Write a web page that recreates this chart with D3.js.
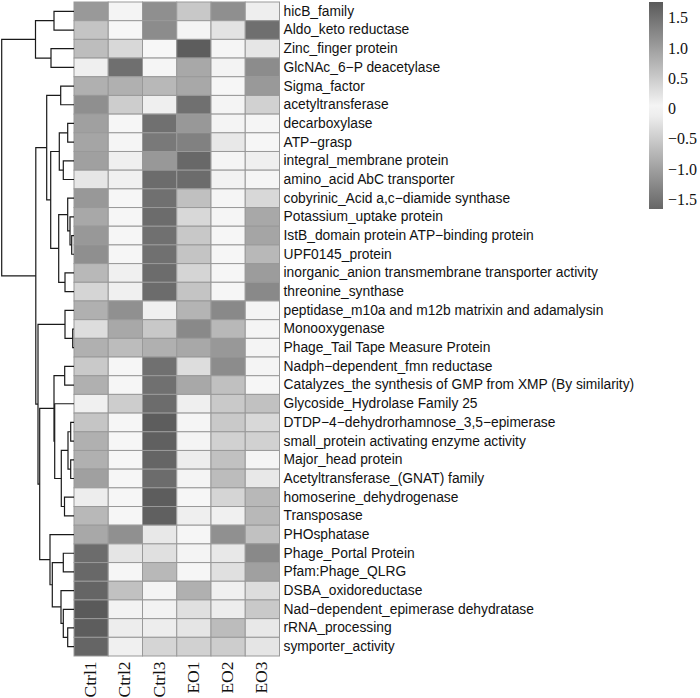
<!DOCTYPE html>
<html lang="en">
<head>
<meta charset="UTF-8"/>
<title>Heatmap with row dendrogram</title>
<script src="https://d3js.org/d3.v7.min.js"></script>
<style>
	body { margin: 0; background: #fff; }
	.cell { stroke: #999; stroke-width: 1; }
	.link { fill: none; stroke: #1a1a1a; stroke-width: 1.2; }
</style>
</head>
<body>
<div id="chart"></div>
<script>
var w = 700;
var h = 698;

var samples = ["Ctrl1", "Ctrl2", "Ctrl3", "EO1", "EO2", "EO3"];

var genes = ["hicB_family", "Aldo_keto reductase", "Zinc_finger protein", "GlcNAc_6\u2212P deacetylase",
	"Sigma_factor", "acetyltransferase", "decarboxylase", "ATP\u2212grasp", "integral_membrane protein",
	"amino_acid AbC transporter", "cobyrinic_Acid a,c\u2212diamide synthase", "Potassium_uptake protein",
	"IstB_domain protein ATP\u2212binding protein", "UPF0145_protein",
	"inorganic_anion transmembrane transporter activity", "threonine_synthase",
	"peptidase_m10a and m12b matrixin and adamalysin", "Monooxygenase", "Phage_Tail Tape Measure Protein",
	"Nadph\u2212dependent_fmn reductase", "Catalyzes_the synthesis of GMP from XMP (By similarity)",
	"Glycoside_Hydrolase Family 25", "DTDP\u22124\u2212dehydrorhamnose_3,5\u2212epimerase",
	"small_protein activating enzyme activity", "Major_head protein", "Acetyltransferase_(GNAT) family",
	"homoserine_dehydrogenase", "Transposase", "PHOsphatase", "Phage_Portal Protein", "Pfam:Phage_QLRG",
	"DSBA_oxidoreductase", "Nad\u2212dependent_epimerase dehydratase", "rRNA_processing", "symporter_activity"];

// scaled values, one row per gene, columns in samples order
var values = [
	[1.06, -0.04, 1.17, 0.53, 1.17, -0.11],
	[0.58, -0.02, 1.20, -0.04, -0.24, 1.53],
	[0.66, -0.36, -0.01, 1.73, -0.03, -0.21],
	[-0.10, 1.53, -0.03, 0.89, -0.06, 1.20],
	[0.80, 0.80, 0.71, 0.89, -0.02, 1.06],
	[1.17, -0.49, -0.10, 1.51, -0.04, -0.44],
	[0.98, -0.02, 1.51, 1.07, -0.04, -0.03],
	[0.93, -0.03, 1.42, 1.33, -0.18, -0.02],
	[0.98, -0.10, 1.07, 1.60, -0.03, -0.10],
	[-0.21, -0.09, 1.56, 1.56, -0.07, -0.03],
	[1.07, -0.02, 1.51, 0.62, -0.03, -0.36],
	[0.89, -0.02, 1.56, -0.36, -0.03, 0.89],
	[1.07, -0.02, 1.51, 0.53, -0.02, 0.93],
	[1.17, -0.02, 1.51, 0.58, -0.02, 0.71],
	[0.71, -0.09, 1.56, -0.40, -0.02, 1.02],
	[-0.40, -0.09, 1.56, 0.58, -0.02, 1.24],
	[0.80, 1.16, -0.09, 0.76, 1.24, -0.04],
	[-0.31, 0.89, 0.53, 1.24, 0.71, -0.04],
	[0.80, 0.67, 0.80, 0.89, 1.07, -0.04],
	[-0.53, -0.02, 1.51, -0.31, 1.20, -0.04],
	[0.80, -0.02, 1.51, 0.89, 0.62, -0.02],
	[-0.09, -0.49, 1.56, -0.10, -0.53, -0.62],
	[-0.58, -0.02, 1.73, -0.03, -0.53, -0.36],
	[0.80, -0.02, 1.69, -0.04, -0.44, -0.44],
	[0.80, -0.02, 1.64, -0.13, -0.62, -0.04],
	[0.98, -0.02, 1.56, -0.04, 0.67, -0.18],
	[-0.13, -0.02, 1.73, -0.02, -0.40, 0.71],
	[0.71, -0.02, 1.69, -0.10, -0.09, 0.71],
	[0.89, 1.16, -0.18, -0.02, 1.16, -0.62],
	[1.56, -0.22, -0.27, -0.04, -0.18, 1.24],
	[1.60, -0.02, 0.71, -0.02, -0.27, 0.98],
	[1.64, -0.62, -0.04, 0.80, -0.09, -0.31],
	[1.76, -0.07, -0.07, -0.27, -0.13, -0.53],
	[1.73, -0.13, -0.13, -0.22, 0.67, -0.18],
	[1.64, -0.09, -0.40, -0.44, -0.49, -0.22]
];

// row clustering, hclust style: negative = leaf (1-based row), positive = earlier merge
var merges = [
	[-1, -2, 20], [-3, -4, 23], [1, 2, 38.5], [-5, -6, 13.3], [-7, -8, 6.3],
	[-9, -10, 10.7], [5, 6, 14.7], [-13, -14, 2.3], [-12, 8, 4], [-11, 9, 6.3],
	[-15, -16, 9], [10, 11, 15.3], [7, 12, 23.3], [4, 13, 27.3], [-18, -19, 1.3],
	[-17, 15, 9], [-20, -21, 9.3], [-23, -24, 3.3], [-25, -26, 3.3], [18, 19, 6],
	[-27, -28, 9.5], [20, 21, 12.7], [-22, 22, 19.3], [17, 23, 20], [-30, -31, 10.7],
	[-34, -35, 6.3], [-33, 26, 10.7], [-32, 27, 13], [25, 28, 21.7], [-29, 29, 24],
	[24, 30, 34.3], [16, 31, 36], [14, 32, 38.2], [3, 33, 72.3]
];

var legendTicks = [1.5, 1.0, 0.5, 0, -0.5, -1.0, -1.5];
var legendMin = -1.66, legendMax = 1.76;

var svg = d3.select("#chart")
	.append("svg")
	.attr("width", w)
	.attr("height", h);

var xScale = d3.scaleBand()
	.domain(samples)
	.range([74, 279.5]);

var yScale = d3.scaleBand()
	.domain(genes)
	.range([2, 656]);

var color = d3.scaleLinear()
	.domain([legendMin, 0, legendMax])
	.range(["#666666", "#f8f8f8", "#5a5a5a"])
	.clamp(true);

// cells
var cells = [];
values.forEach(function(row, i){
	row.forEach(function(v, j){
		cells.push({gene: genes[i], sample: samples[j], value: v});
	});
});

svg.append("g")
	.selectAll("rect")
	.data(cells)
	.enter()
	.append("rect")
	.attr("class", "cell")
	.attr("x", function(d){ return xScale(d.sample); })
	.attr("y", function(d){ return yScale(d.gene); })
	.attr("width", xScale.bandwidth())
	.attr("height", yScale.bandwidth())
	.attr("fill", function(d){ return color(d.value); });

// dendrogram
var hScale = d3.scaleLinear()
	.domain([0, d3.max(merges, function(m){ return m[2]; })])
	.range([74, 1.7]);

function nodePos(ref, nodes){
	if (ref < 0) {
		return {x: hScale(0), y: yScale(genes[-ref - 1]) + yScale.bandwidth() / 2};
	}
	return nodes[ref - 1];
}

var nodes = [];
var links = [];
merges.forEach(function(m){
	var a = nodePos(m[0], nodes);
	var b = nodePos(m[1], nodes);
	var n = {x: hScale(m[2]), y: (a.y + b.y) / 2};
	nodes.push(n);
	links.push({a: a, b: b, n: n});
});

svg.append("g")
	.selectAll("path")
	.data(links)
	.enter()
	.append("path")
	.attr("class", "link")
	.attr("d", function(d){
		return "M" + d.a.x + "," + d.a.y + "H" + d.n.x + "V" + d.b.y + "H" + d.b.x;
	});

// row labels
var rowAxis = svg.append("g")
	.attr("transform", "translate(279.5,0)")
	.call(d3.axisRight(yScale).tickSize(0).tickPadding(4));
rowAxis.select(".domain").remove();
rowAxis.selectAll("text")
	.attr("font-family", "'Liberation Sans', Arial, sans-serif")
	.attr("font-size", "13.8px")
	.attr("fill", "#111");

// column labels
var colAxis = svg.append("g")
	.attr("transform", "translate(0,656)")
	.call(d3.axisBottom(xScale).tickSize(0));
colAxis.select(".domain").remove();
colAxis.selectAll("text")
	.attr("font-family", "'Liberation Serif', 'Times New Roman', serif")
	.attr("font-size", "17.5px")
	.attr("fill", "#111")
	.attr("transform", "rotate(-90)")
	.attr("text-anchor", "end")
	.attr("x", -5.5)
	.attr("y", 0)
	.attr("dy", "0.28em");

// colour key
var keyScale = d3.scaleLinear()
	.domain([legendMin, legendMax])
	.range([209, 2]);

var grad = svg.append("defs")
	.append("linearGradient")
	.attr("id", "keygrad")
	.attr("x1", 0).attr("y1", 1)
	.attr("x2", 0).attr("y2", 0);

d3.range(0, 1.0001, 0.05).forEach(function(t){
	grad.append("stop")
		.attr("offset", t)
		.attr("stop-color", color(legendMin + t * (legendMax - legendMin)));
});

svg.append("rect")
	.attr("x", 649)
	.attr("y", keyScale(legendMax))
	.attr("width", 14)
	.attr("height", keyScale(legendMin) - keyScale(legendMax))
	.attr("fill", "url(#keygrad)");

var keyAxis = svg.append("g")
	.attr("transform", "translate(663,0)")
	.call(d3.axisRight(keyScale)
		.tickValues(legendTicks)
		.tickSize(0)
		.tickPadding(5)
		.tickFormat(function(d){ return d === 0 ? "0" : d3.format(".1f")(d); }));
keyAxis.select(".domain").remove();
keyAxis.selectAll("text")
	.attr("font-family", "'Liberation Serif', 'Times New Roman', serif")
	.attr("font-size", "16px")
	.attr("fill", "#111");
</script>
</body>
</html>
